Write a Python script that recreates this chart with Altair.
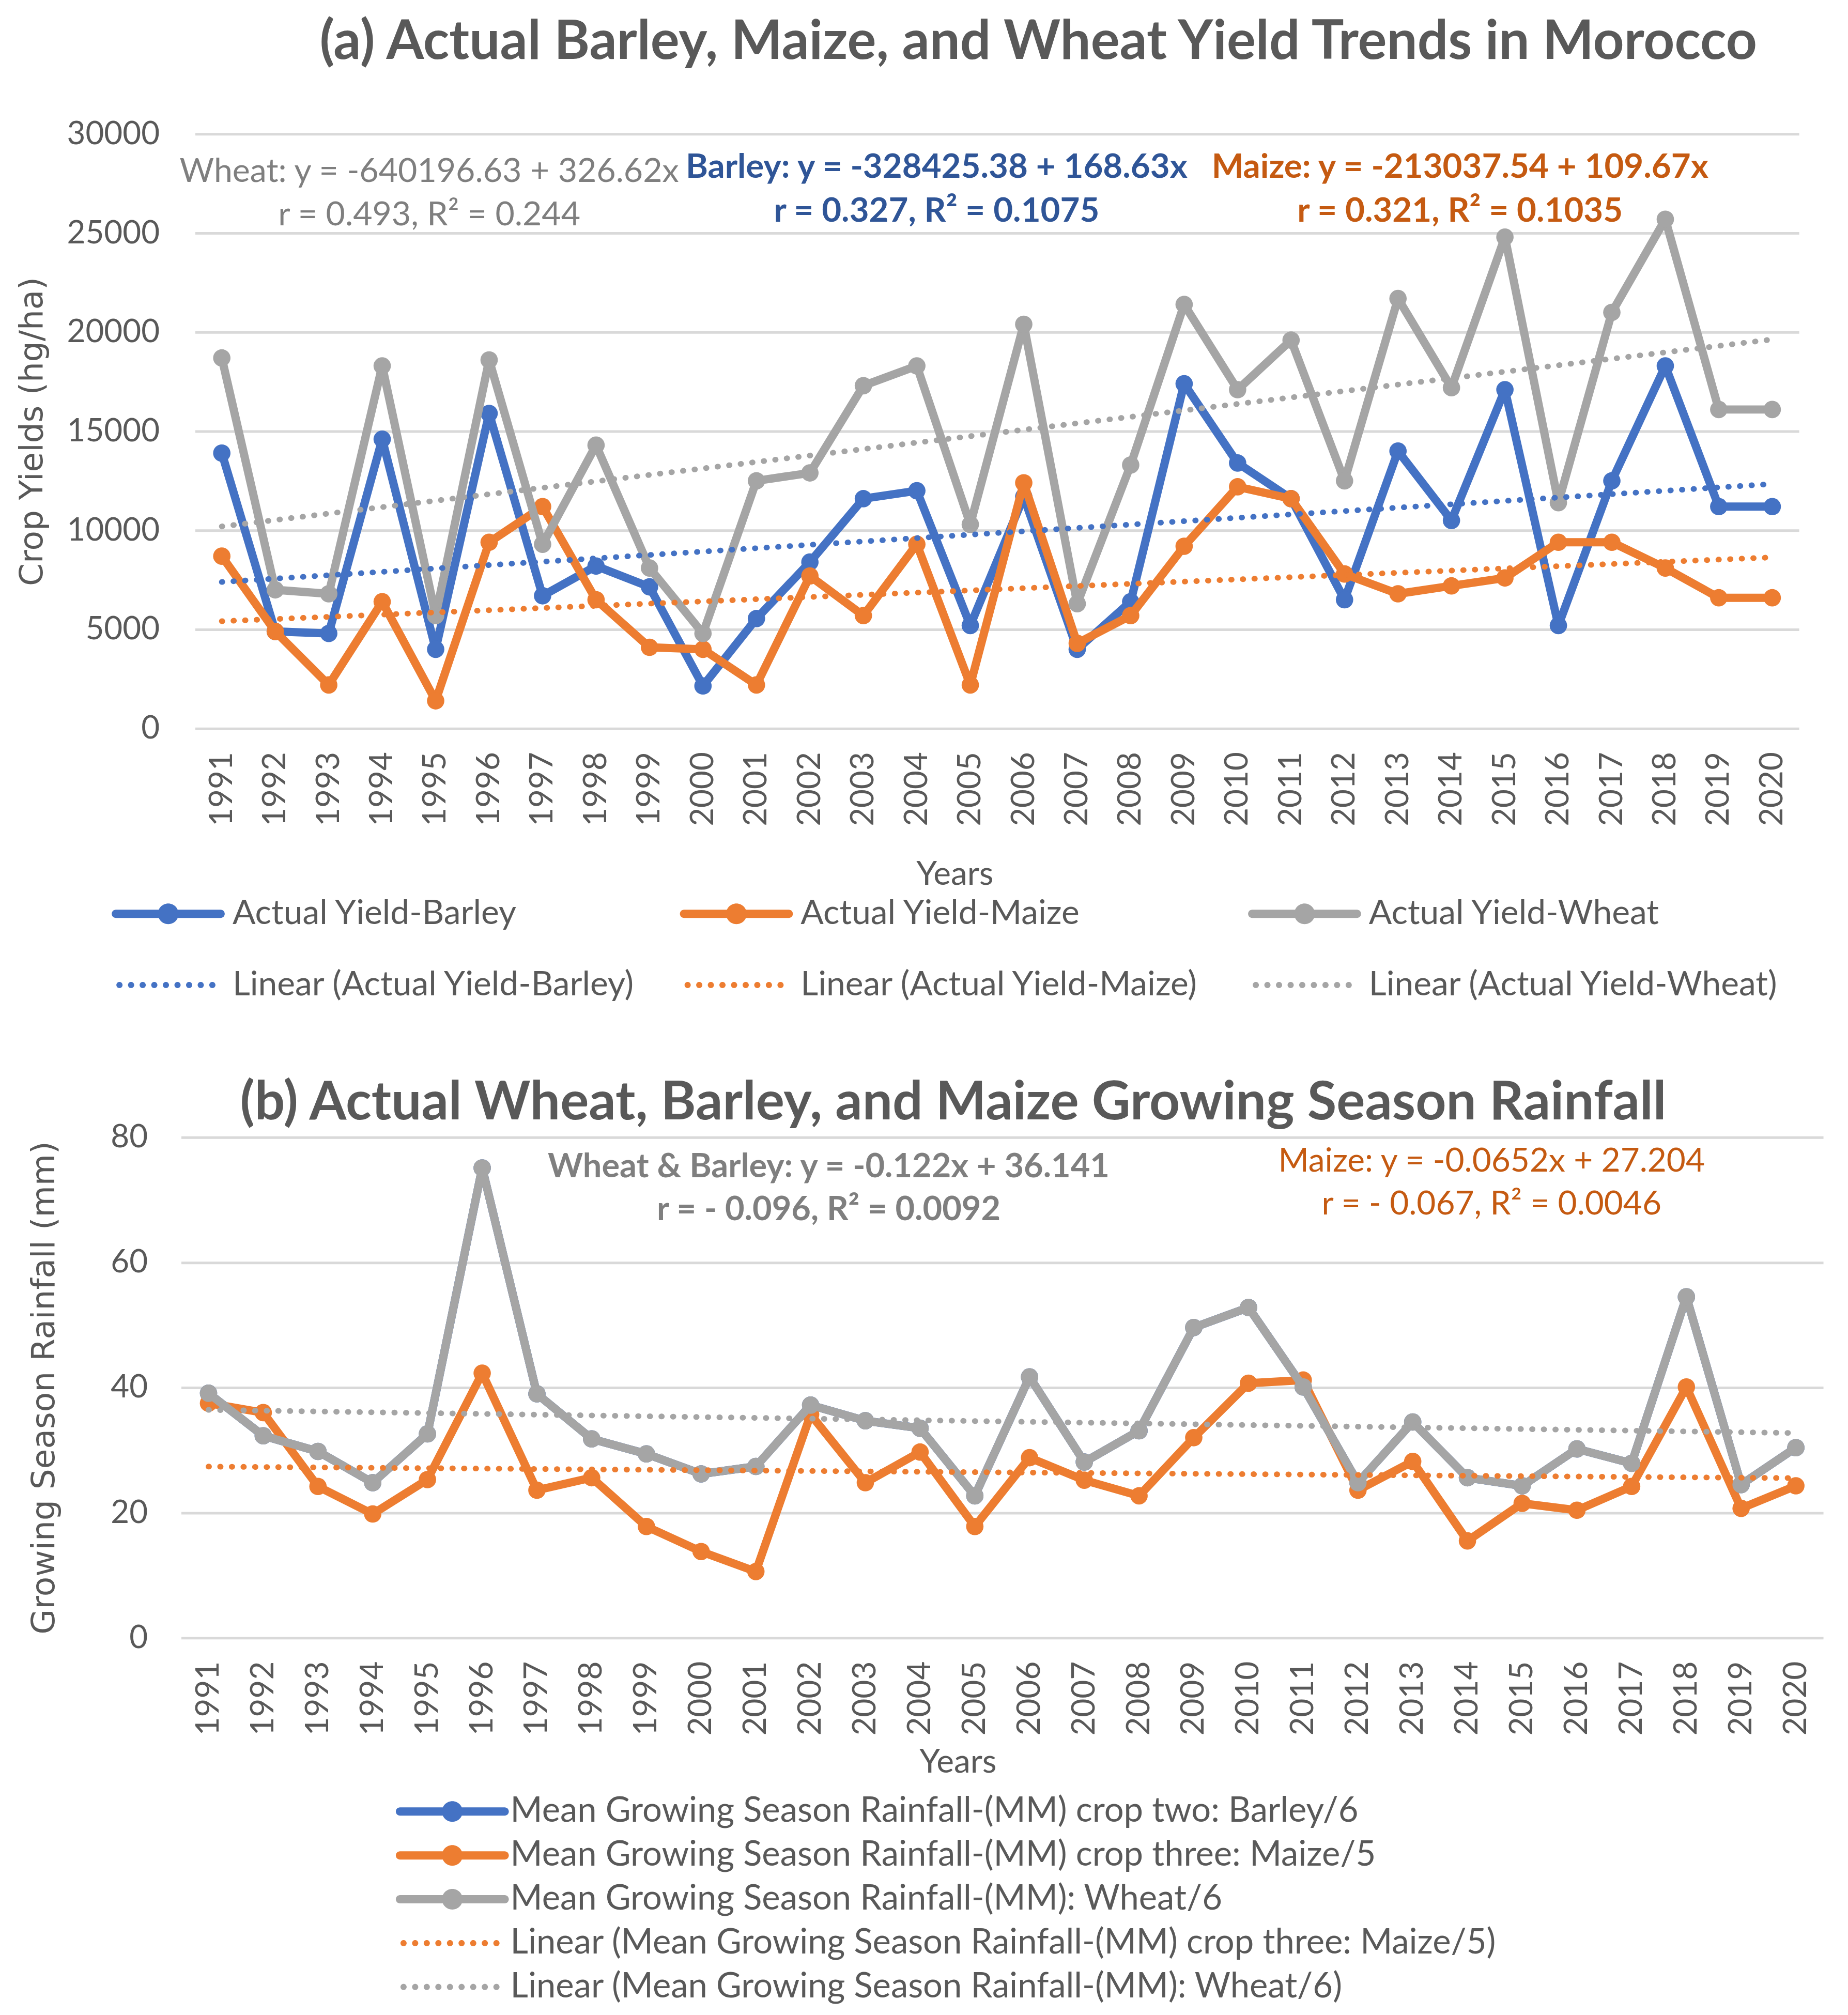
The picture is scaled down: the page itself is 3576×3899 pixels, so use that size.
import altair as alt
import pandas as pd

# ---------------- data ----------------
years = list(range(1991, 2021))

barley_yield = [13900, 4900, 4800, 14600, 4000, 15900, 6700, 8200, 7150, 2150,
                5550, 8400, 11600, 12000, 5200, 11700, 4000, 6400, 17400, 13400,
                11600, 6500, 14000, 10500, 17100, 5200, 12500, 18300, 11200, 11200]
maize_yield = [8700, 4900, 2200, 6400, 1400, 9400, 11200, 6500, 4100, 4000,
               2200, 7700, 5700, 9300, 2200, 12400, 4300, 5700, 9200, 12200,
               11600, 7800, 6800, 7200, 7600, 9400, 9400, 8100, 6600, 6600]
wheat_yield = [18700, 7000, 6800, 18300, 5700, 18600, 9300, 14300, 8100, 4800,
               12500, 12900, 17300, 18300, 10300, 20400, 6300, 13300, 21400, 17100,
               19600, 12500, 21700, 17200, 24800, 11400, 21000, 25700, 16100, 16100]

wheat_rain = [39.1, 32.3, 29.8, 24.8, 32.6, 75.1, 39.0, 31.8, 29.4, 26.2,
              27.4, 37.2, 34.7, 33.5, 22.7, 41.7, 28.1, 33.1, 49.6, 52.8,
              40.1, 24.8, 34.5, 25.6, 24.3, 30.2, 27.9, 54.5, 24.5, 30.4]
# barley rainfall coincides with wheat rainfall (hidden under the grey line)
barley_rain = [39.1, 32.3, 29.8, 24.8, 32.6, 75.1, 39.0, 31.8, 29.4, 26.2,
               27.4, 37.2, 34.7, 33.5, 22.7, 41.7, 28.1, 33.1, 49.6, 52.8,
               40.1, 24.8, 34.5, 25.6, 24.3, 30.2, 27.9, 54.5, 24.5, 30.4]
maize_rain = [37.5, 36.0, 24.2, 19.8, 25.3, 42.3, 23.6, 25.6, 17.8, 13.8,
              10.6, 35.7, 24.8, 29.7, 17.8, 28.8, 25.2, 22.7, 32.0, 40.7,
              41.2, 23.6, 28.2, 15.5, 21.5, 20.4, 24.2, 40.1, 20.7, 24.3]

yield_names = ["Actual Yield-Barley", "Actual Yield-Maize", "Actual Yield-Wheat"]
yield_trend_names = ["Linear (Actual Yield-Barley)", "Linear (Actual Yield-Maize)",
                     "Linear (Actual Yield-Wheat)"]
rain_names = ["Mean Growing Season Rainfall-(MM) crop two: Barley/6",
              "Mean Growing Season Rainfall-(MM) crop three: Maize/5",
              "Mean Growing Season Rainfall-(MM): Wheat/6"]
rain_trend_names = ["Linear (Mean Growing Season Rainfall-(MM) crop three: Maize/5)",
                    "Linear (Mean Growing Season Rainfall-(MM): Wheat/6)"]

title_a = "(a) Actual Barley, Maize, and Wheat Yield Trends in Morocco"
title_b = "(b) Actual Wheat, Barley, and Maize Growing Season Rainfall"
eq_a_wheat = ["Wheat: y = -640196.63 + 326.62x", "r = 0.493, R\u00b2 = 0.244"]
eq_a_barley = ["Barley: y = -328425.38 + 168.63x", "r = 0.327, R\u00b2 = 0.1075"]
eq_a_maize = ["Maize: y = -213037.54 + 109.67x", "r = 0.321, R\u00b2 = 0.1035"]
eq_b_wb = ["Wheat & Barley: y = -0.122x + 36.141", "r = - 0.096, R\u00b2 = 0.0092"]
eq_b_maize = ["Maize: y = -0.0652x + 27.204", "r = - 0.067, R\u00b2 = 0.0046"]

y_ticks_a = [0, 5000, 10000, 15000, 20000, 25000, 30000]
y_ticks_b = [0, 20, 40, 60, 80]

# ---------------- styling / layout ----------------
BLUE, ORANGE, GRAY = "#4472C4", "#ED7D31", "#A5A5A5"
TXT = "#595959"
GRID = "#D9D9D9"
FONT = "Lato"
AXFONT = "DejaVu Sans"

WA, HA = 3108, 1152
WB, HB = 3155, 970
B_SHIFT = 27          # panel (b) plot starts this far left of panel (a)
LINE_W = 16
PT_SIZE = 1134
DOT_W = 11
DOT_DASH = [1, 21.5]


def f4(v):
    return f"{v:.4f}"


def solid_path(S, half_len, half_thick, radius):
    u = S / 2.0
    L = (half_len - half_thick) / u
    t = half_thick / u
    r = radius / u
    bar = (f"M{f4(-L)},{f4(-t)}L{f4(L)},{f4(-t)}A{f4(t)},{f4(t)} 0 0 1 {f4(L)},{f4(t)}"
           f"L{f4(-L)},{f4(t)}A{f4(t)},{f4(t)} 0 0 1 {f4(-L)},{f4(-t)}Z")
    circ = f"M{f4(r)},0A{f4(r)},{f4(r)} 0 1 1 {f4(-r)},0A{f4(r)},{f4(r)} 0 1 1 {f4(r)},0Z"
    return bar + circ


def dots_path(S, first, step, n, radius):
    u = S / 2.0
    r = radius / u
    out = ""
    for k in range(n):
        cx = (first + k * step) / u
        out += (f"M{f4(cx + r)},0A{f4(r)},{f4(r)} 0 1 1 {f4(cx - r)},0"
                f"A{f4(r)},{f4(r)} 0 1 1 {f4(cx + r)},0Z")
    return out


def long_frame(names, series):
    rows = []
    for n, vals in zip(names, series):
        for yr, v in zip(years, vals):
            rows.append({"Year": yr, "Value": v, "Legend": n})
    return pd.DataFrame(rows)


def make_panel(df, names, colors, trend_idx, leg_domain, leg_colors, leg_dotted, S,
               xscale, yscale, xaxis, yaxis, legend, anns, width, height, title):
    X = alt.X("Year:Q", scale=xscale, axis=xaxis)
    Y = alt.Y("Value:Q", scale=yscale, axis=yaxis)
    layers = []
    for n, c in zip(names, colors):
        base = alt.Chart(df).transform_filter(alt.datum.Legend == n)
        layers.append(base.mark_line(strokeWidth=LINE_W, strokeJoin="round", strokeCap="round",
                                     color=c).encode(x=X, y=Y))
        layers.append(base.mark_point(filled=True, shape="circle", size=PT_SIZE, opacity=1,
                                      strokeWidth=0, color=c).encode(x=X, y=Y))
    for i in trend_idx:
        layers.append(alt.Chart(df)
                      .transform_filter(alt.datum.Legend == names[i])
                      .transform_regression("Year", "Value")
                      .mark_line(strokeWidth=DOT_W, strokeDash=DOT_DASH, strokeCap="round",
                                 color=colors[i])
                      .encode(x=X, y=Y))
    # annotation texts (positions given in data units, placed through the scales)
    for lines, xs, ys, color, weight, size in anns:
        d = pd.DataFrame({"t": lines, "x": xs, "y": ys})
        layers.append(alt.Chart(d).mark_text(
            align="center", baseline="alphabetic", font=FONT, fontSize=size,
            fontWeight=weight, color=color
        ).encode(x=alt.X("x:Q", scale=xscale, axis=xaxis),
                 y=alt.Y("y:Q", scale=yscale, axis=yaxis), text="t:N"))
    # legend carrier: draws no marks, only the combined colour / shape legend
    solid = solid_path(S, 109.5, 8, 20)
    dots = dots_path(S, -94.5, 22.5, 9, 6)
    rng_s = [dots if d else solid for d in leg_dotted]
    layers.append(alt.Chart(df).transform_filter("false")
                  .mark_point(filled=True, opacity=1, strokeWidth=0)
                  .encode(x=X, y=Y,
                          color=alt.Color("Legend:N",
                                          scale=alt.Scale(domain=leg_domain, range=leg_colors),
                                          legend=legend),
                          shape=alt.Shape("Legend:N",
                                          scale=alt.Scale(domain=leg_domain, range=rng_s),
                                          legend=legend)))
    return alt.layer(*layers).properties(width=width, height=height, title=title)


# ---------------- panel (a) ----------------
df_a = long_frame(yield_names, [barley_yield, maize_yield, wheat_yield])

xscale_a = alt.Scale(domain=[1990.5, 2020.5], nice=False, zero=False)
yscale_a = alt.Scale(domain=[0, 30000], nice=False, zero=True)

xaxis_a = alt.Axis(values=years, format="d", labelAngle=270, labelAlign="right",
                   labelBaseline="middle", labelFont=FONT, labelFontSize=62,
                   labelColor=TXT, labelPadding=45, labelOverlap=False, labelFlush=False,
                   grid=False, domain=False, ticks=False, tickSize=0,
                   title="Years", titleFont=FONT, titleFontSize=64, titleFontWeight="normal",
                   titleColor=TXT, titleX=1472, titleY=302, titleAlign="center",
                   titleBaseline="alphabetic")
yaxis_a = alt.Axis(values=y_ticks_a, format="d", labelFont=FONT, labelFontSize=62,
                   labelColor=TXT, labelPadding=69, grid=True, gridColor=GRID, gridWidth=5,
                   domain=False, ticks=False, tickSize=0,
                   title="Crop Yields (hg/ha)", titleFont=AXFONT, titleFontSize=63,
                   titleFontWeight="normal", titleColor=TXT, titleAngle=270,
                   titleX=-315, titleY=HA / 2, titleAlign="center", titleBaseline="middle")

S_A = 66
legend_a = alt.Legend(title=None, orient="none", legendX=-85, legendY=1478, columns=3,
                      gridAlign="all", columnPadding=71, rowPadding=72, padding=0,
                      symbolSize=S_A * S_A, symbolStrokeWidth=0, symbolOpacity=1,
                      labelFont=FONT, labelFontSize=66, labelColor=TXT, labelLimit=3000,
                      labelOffset=91.5)

ann_a = [
    (eq_a_wheat, [1994.88, 1994.88], [27578, 25391], "#7F7F7F", "normal", 64.5),
    (eq_a_barley, [2004.37, 2004.37], [27786, 25573], "#2F5597", "bold", 65.5),
    (eq_a_maize, [2014.16, 2014.16], [27786, 25573], "#C55A11", "bold", 65.5),
]

title_params_a = alt.TitleParams(text=title_a, font=FONT, fontSize=105, fontWeight="bold",
                                 color=TXT, anchor="middle", frame="group", dx=80,
                                 offset=10, baseline="alphabetic")

leg_a_domain = [yield_names[0], yield_trend_names[0], yield_names[1], yield_trend_names[1],
                yield_names[2], yield_trend_names[2]]
panel_a = make_panel(df_a, yield_names, [BLUE, ORANGE, GRAY], [0, 1, 2],
                     leg_a_domain, [BLUE, BLUE, ORANGE, ORANGE, GRAY, GRAY],
                     [False, True, False, True, False, True], S_A,
                     xscale_a, yscale_a, xaxis_a, yaxis_a, legend_a, ann_a, WA, HA,
                     title_params_a)

# ---------------- panel (b) ----------------
df_b = long_frame(rain_names, [barley_rain, maize_rain, wheat_rain])

xscale_b = alt.Scale(domain=[1990.5, 2020.5], range=[-B_SHIFT, WB], nice=False, zero=False)
yscale_b = alt.Scale(domain=[0, 80], nice=False, zero=True)

xaxis_b = alt.Axis(values=years, format="d", labelAngle=270, labelAlign="right",
                   labelBaseline="middle", labelFont=FONT, labelFontSize=62,
                   labelColor=TXT, labelPadding=45, labelOverlap=False, labelFlush=False,
                   grid=False, domain=False, ticks=False, tickSize=0,
                   title="Years", titleFont=FONT, titleFontSize=64, titleFontWeight="normal",
                   titleColor=TXT, titleX=1478, titleY=261, titleAlign="center",
                   titleBaseline="alphabetic")
yaxis_b = alt.Axis(values=y_ticks_b, format="d", labelFont=FONT, labelFontSize=62,
                   labelColor=TXT, labelPadding=92, grid=True, gridColor=GRID, gridWidth=5,
                   domain=False, ticks=False, tickSize=0,
                   title="Growing Season Rainfall (mm)", titleFont=AXFONT, titleFontSize=63,
                   titleFontWeight="normal", titleColor=TXT, titleAngle=270,
                   titleX=-292, titleY=HB / 2, titleAlign="center", titleBaseline="middle")

S_B = 67
legend_b = alt.Legend(title=None, orient="none", legendX=465, legendY=1273, direction="vertical",
                      columns=1, rowPadding=17, padding=0,
                      symbolSize=S_B * S_B, symbolStrokeWidth=0, symbolOpacity=1,
                      labelFont=FONT, labelFontSize=67, labelColor=TXT, labelLimit=3000,
                      labelOffset=79)

ann_b = [
    (eq_b_wb, [2002.33, 2002.33], [73.65, 66.72], "#7F7F7F", "bold", 65),
    (eq_b_maize, [2014.44, 2014.44], [74.56, 67.63], "#C55A11", "normal", 64),
]

title_params_b = alt.TitleParams(text=title_b, font=FONT, fontSize=103.5, fontWeight="bold",
                                 color=TXT, anchor="middle", frame="group", dx=-108.5,
                                 offset=-100, baseline="alphabetic")

leg_b_domain = rain_names + rain_trend_names
panel_b = make_panel(df_b, rain_names, [BLUE, ORANGE, GRAY], [1, 2],
                     leg_b_domain, [BLUE, ORANGE, GRAY, ORANGE, GRAY],
                     [False, False, False, True, True], S_B,
                     xscale_b, yscale_b, xaxis_b, yaxis_b, legend_b, ann_b, WB, HB,
                     title_params_b)

chart = (alt.vconcat(panel_a, panel_b, spacing=143)
         .resolve_scale(color="independent", shape="independent")
         .resolve_legend(color="independent", shape="independent")
         .properties(padding={"left": 23, "top": 18, "right": 12, "bottom": 0},
                     background="white")
         .configure_view(stroke="transparent"))

chart.save("out.html", embed_options={"renderer": "svg", "actions": False})
